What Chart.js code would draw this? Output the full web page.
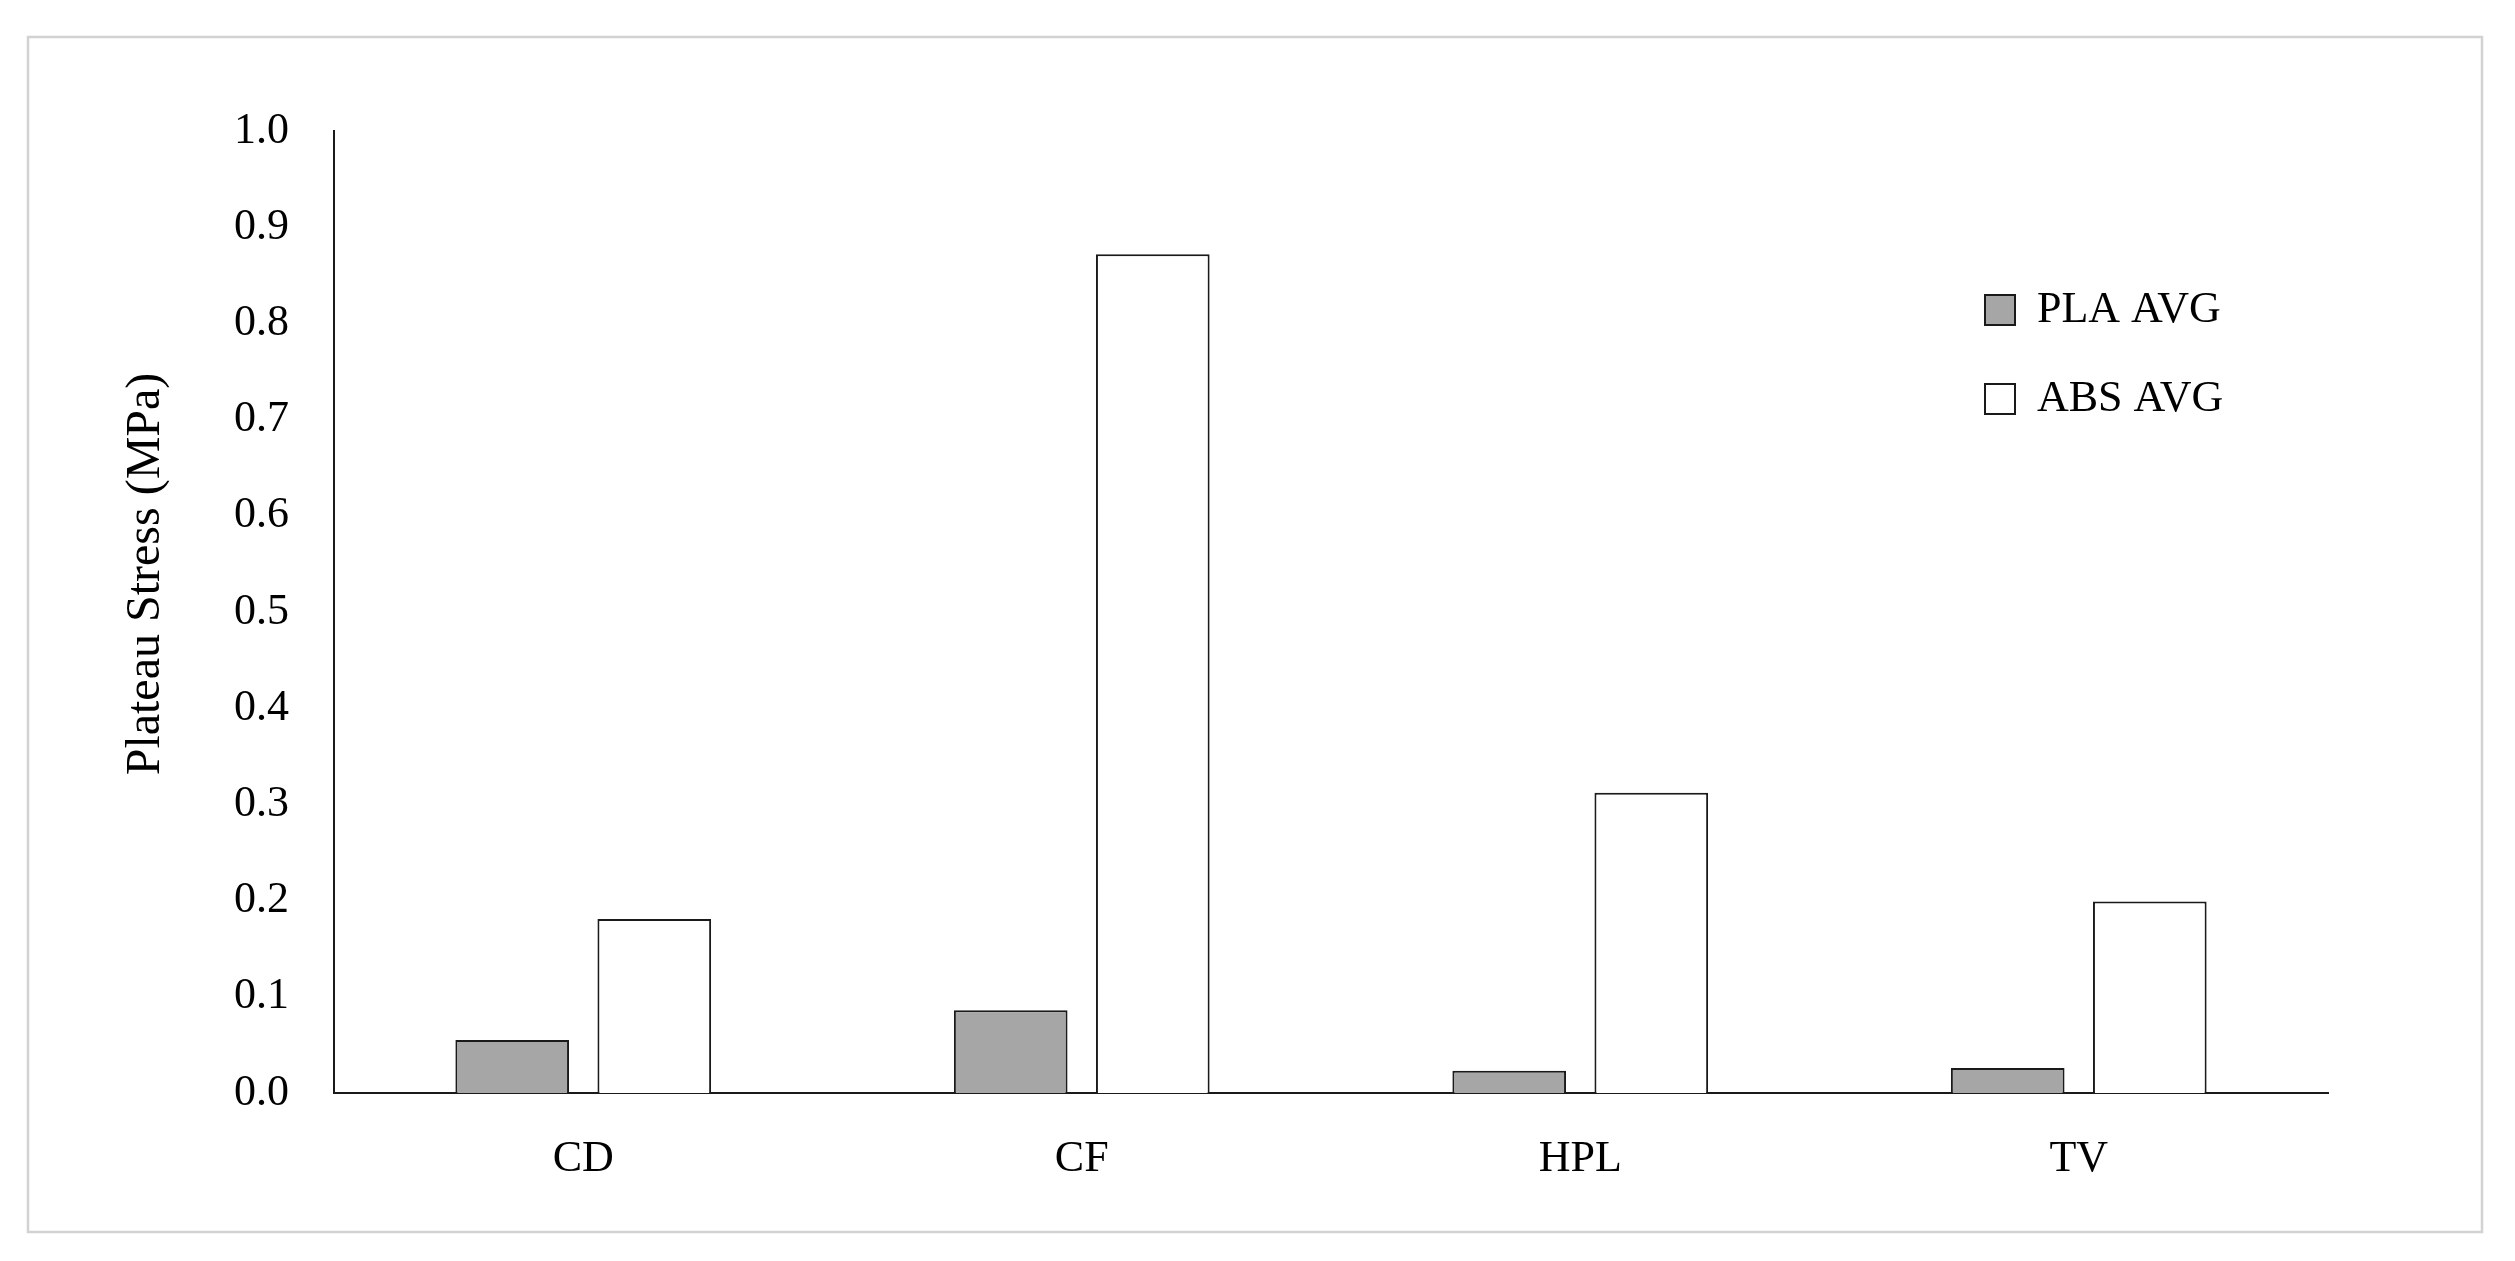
<!DOCTYPE html>
<html>
<head>
<meta charset="utf-8">
<script src="https://cdn.jsdelivr.net/npm/chart.js@4.4.1/dist/chart.umd.min.js"></script>
<style>
  html, body { margin: 0; padding: 0; background: #fff; }
  #wrap { width: 2515px; height: 1261px; position: relative; }
</style>
</head>
<body>
<div id="wrap"><canvas id="stressChart"></canvas></div>
<script>
var categories = ['CD', 'CF', 'HPL', 'TV'];
var plaAvg = [0.055, 0.086, 0.023, 0.026];
var absAvg = [0.181, 0.872, 0.312, 0.199];
var yMin = 0, yMax = 1.0, yStep = 0.1;
var yTitle = 'Plateau Stress (MPa)';

var serif = "'Liberation Serif', 'DejaVu Serif', serif";

// light grey frame round the whole figure
var frame = {
    id: 'frame',
    beforeDraw: function(chart) {
        var c = chart.ctx;
        c.save();
        c.strokeStyle = '#d2d2d2';
        c.lineWidth = 2.5;
        c.strokeRect(28, 37, 2454, 1195);
        c.restore();
    }
};

// y title sits a bit above the middle of the axis in the original
var sideTitle = {
    id: 'sideTitle',
    afterDraw: function(chart) {
        var c = chart.ctx;
        c.save();
        c.translate(146, 574);
        c.rotate(-Math.PI / 2);
        c.font = '48px ' + serif;
        c.fillStyle = '#000';
        c.textAlign = 'center';
        c.textBaseline = 'middle';
        c.fillText(yTitle, 0, 0);
        c.restore();
    }
};

// move the legend into the upper right of the plot
var legendSpot = {
    id: 'legendSpot',
    afterLayout: function(chart) {
        var lg = chart.legend;
        lg.left = 1940;
        lg.top = 243;
    }
};

var ctx = document.getElementById('stressChart').getContext('2d');
var chart = new Chart(ctx, {
    type: 'bar',
    data: {
        labels: categories,
        datasets: [{
            label: 'PLA AVG',
            data: plaAvg,
            backgroundColor: '#a6a6a6',
            borderColor: '#1a1a1a',
            borderWidth: 2,
            categoryPercentage: 0.57,
            barPercentage: 0.8
        },
        {
            label: 'ABS AVG',
            data: absAvg,
            backgroundColor: '#ffffff',
            borderColor: '#1a1a1a',
            borderWidth: 2,
            categoryPercentage: 0.57,
            barPercentage: 0.8
        }]
    },
    options: {
        responsive: true,
        maintainAspectRatio: false,
        animation: false,
        layout: { padding: { top: 131, right: 187, bottom: 0, left: 0 } },
        plugins: {
            legend: {
                position: 'chartArea',
                align: 'start',
                labels: {
                    boxWidth: 30,
                    boxHeight: 30,
                    padding: 45,
                    color: '#000',
                    font: { family: serif, size: 44 }
                }
            },
            tooltip: { enabled: false }
        },
        scales: {
            x: {
                grid: { display: false, drawTicks: false },
                border: { display: true, color: '#1a1a1a', width: 2 },
                ticks: {
                    color: '#000',
                    padding: 40,
                    font: { family: serif, size: 44 }
                },
                afterFit: function(scale) { scale.height = 168; }
            },
            y: {
                min: yMin,
                max: yMax,
                grid: { display: false, drawTicks: false },
                border: { display: true, color: '#1a1a1a', width: 2 },
                ticks: {
                    stepSize: yStep,
                    color: '#000',
                    padding: 45,
                    font: { family: serif, size: 44 },
                    callback: function(v) { return Number(v).toFixed(1); }
                },
                title: { display: false, text: yTitle },
                afterFit: function(scale) { scale.width = 334; }
            }
        }
    },
    plugins: [frame, sideTitle, legendSpot]
});
</script>
</body>
</html>
